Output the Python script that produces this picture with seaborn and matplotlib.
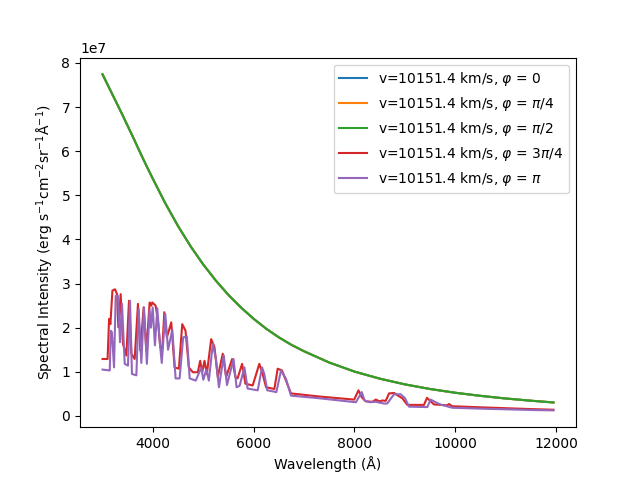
import matplotlib
matplotlib.use("Agg")
import matplotlib.pyplot as plt
import seaborn as sns
import pandas as pd
import numpy as np

# Continuum-like curves (phases 0, pi/4, pi/2 overlap), units of 1e7
cont_wave = [3000, 3125, 3250, 3375, 3500, 3625, 3750, 3875, 4000, 4250, 4500,
             4750, 5000, 5250, 5500, 5750, 6000, 6250, 6500, 6750, 7000, 7500,
             8000, 8500, 9000, 9500, 10000, 10500, 11000, 11500, 11950]
cont_vals = [7.74, 7.45, 7.16, 6.87, 6.57, 6.27, 5.96, 5.66, 5.37, 4.81, 4.30,
             3.84, 3.43, 3.065, 2.74, 2.455, 2.20, 1.975, 1.78, 1.61, 1.465,
             1.21, 1.005, 0.845, 0.715, 0.61, 0.525, 0.455, 0.395, 0.345, 0.305]

# phase 3pi/4 spectrum
red_wave = [3000, 3100, 3130, 3156, 3196, 3248, 3287, 3314, 3360, 3406, 3473,
            3525, 3572, 3638, 3703, 3750, 3816, 3869, 3935, 3965, 3988, 4053,
            4099, 4146, 4185, 4226, 4277, 4364, 4430, 4515, 4582, 4647, 4713,
            4792, 4891, 4938, 4978, 5024, 5070, 5156, 5221, 5287, 5386, 5453,
            5572, 5637, 5680, 5770, 5835, 5980, 6112, 6178, 6245, 6410, 6476,
            6562, 6641, 6740, 7300, 7994, 8080, 8146, 8225, 8356, 8423, 8500,
            8554, 8620, 8687, 8786, 8851, 8950, 9049, 9380, 9440, 9512, 9578,
            9842, 9875, 9941, 10500, 11000, 11500, 11950]
red_vals = [1.29, 1.29, 2.20, 2.08, 2.84, 2.87, 2.76, 2.01, 2.76, 1.63, 1.37,
            2.61, 1.41, 1.29, 2.54, 1.48, 2.46, 1.48, 2.57, 2.50, 2.57, 2.50,
            2.16, 1.56, 1.50, 2.35, 1.78, 2.12, 1.10, 1.07, 2.08, 1.93, 1.10,
            0.99, 0.99, 1.25, 0.99, 1.25, 0.95, 1.74, 1.56, 0.88, 1.41, 0.88,
            1.29, 0.88, 0.85, 1.18, 0.73, 0.69, 1.18, 0.95, 0.65, 0.61, 1.07,
            1.03, 0.80, 0.51, 0.44, 0.37, 0.58, 0.42, 0.33, 0.32, 0.37, 0.33,
            0.35, 0.34, 0.51, 0.52, 0.47, 0.40, 0.25, 0.25, 0.41, 0.33, 0.26,
            0.24, 0.27, 0.22, 0.195, 0.175, 0.155, 0.14]

# phase pi spectrum
pur_wave = [3000, 3143, 3162, 3185, 3228, 3261, 3307, 3347, 3386, 3440, 3505,
            3545, 3584, 3671, 3717, 3770, 3822, 3880, 3935, 3960, 3995, 4040,
            4087, 4130, 4175, 4245, 4300, 4385, 4450, 4530, 4600, 4673, 4730,
            4850, 4960, 5000, 5060, 5110, 5188, 5250, 5310, 5406, 5470, 5600,
            5660, 5720, 5816, 5880, 6080, 6166, 6210, 6270, 6450, 6542, 6641,
            6740, 7301, 8028, 8146, 8200, 8300, 8420, 8588, 8650, 8786, 8918,
            9004, 9083, 9446, 9512, 9611, 9700, 9941, 10500, 11000, 11500, 11950]
pur_vals = [1.05, 1.03, 1.93, 1.90, 1.10, 2.72, 2.72, 1.67, 2.54, 1.18, 1.14,
            2.61, 0.95, 0.92, 2.42, 1.20, 2.46, 1.18, 2.40, 2.00, 2.46, 1.60,
            2.44, 1.75, 1.20, 2.31, 1.50, 1.95, 0.85, 0.85, 1.78, 1.80, 0.85,
            0.80, 1.10, 0.82, 1.05, 0.80, 1.63, 1.30, 0.65, 1.37, 0.70, 1.29,
            0.65, 0.68, 1.10, 0.62, 0.58, 1.10, 0.95, 0.58, 0.54, 1.03, 0.84,
            0.46, 0.40, 0.31, 0.54, 0.35, 0.31, 0.32, 0.28, 0.28, 0.49, 0.49,
            0.40, 0.21, 0.20, 0.37, 0.31, 0.26, 0.185, 0.165, 0.15, 0.135, 0.125]

labels = [r"v=10151.4 km/s, $\varphi$ = 0",
          r"v=10151.4 km/s, $\varphi$ = $\pi/4$",
          r"v=10151.4 km/s, $\varphi$ = $\pi/2$",
          r"v=10151.4 km/s, $\varphi$ = 3$\pi/4$",
          r"v=10151.4 km/s, $\varphi$ = $\pi$"]
colors = ["#1f77b4", "#ff7f0e", "#2ca02c", "#d62728", "#9467bd"]

series = [(cont_wave, cont_vals), (cont_wave, cont_vals), (cont_wave, cont_vals),
          (red_wave, red_vals), (pur_wave, pur_vals)]
frames = []
for lab, (w, v) in zip(labels, series):
    frames.append(pd.DataFrame({"wave": w, "I": np.array(v) * 1e7, "label": lab}))
df = pd.concat(frames, ignore_index=True)

fig, ax = plt.subplots(figsize=(6.4, 4.8), dpi=100)
sns.lineplot(data=df, x="wave", y="I", hue="label", hue_order=labels,
             palette=colors, estimator=None, sort=False, linewidth=1.5, ax=ax)
ax.legend(loc="upper right")
ax.set_xlabel("Wavelength (Å)")
ax.set_ylabel(r"Spectral Intensity (erg s$^{-1}$cm$^{-2}$sr$^{-1}$Å$^{-1}$)")
fig.savefig("out.png", dpi=100)
